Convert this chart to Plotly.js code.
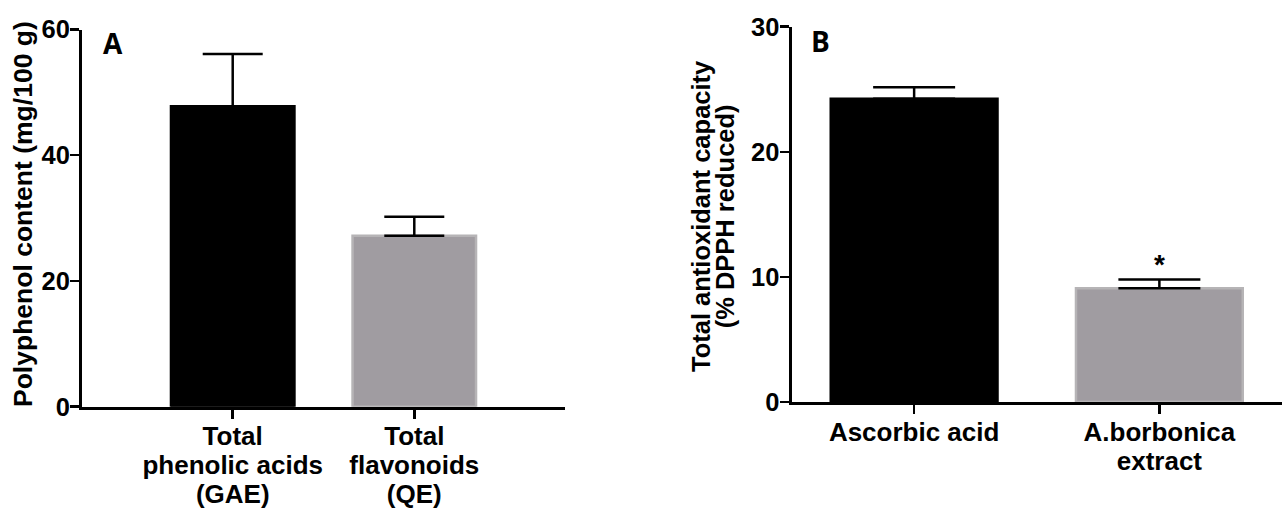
<!DOCTYPE html>
<html>
<head>
<meta charset="utf-8">
<script src="https://cdn.plot.ly/plotly-3.0.1.min.js"></script>
<style>
html,body{margin:0;padding:0;background:#fff;}
#chart{width:1282px;height:511px;}
</style>
</head>
<body>
<div id="chart"></div>
<script>
// Panel A data
const catsA = ["Total<br>phenolic acids<br>(GAE)", "Total<br>flavonoids<br>(QE)"];
const valsA = [47.8, 27.2];
const errA = [8.3, 3.0];
const ticksA = [0, 20, 40, 60];

// Panel B data
const catsB = ["Ascorbic acid", "A.borbonica<br>extract"];
const valsB = [24.25, 9.1];
const errB = [0.9, 0.7];
const ticksB = [0, 10, 20, 30];

const titleA = "Polyphenol content (mg/100 g)";
const titleB = ["Total antioxidant capacity", "(% DPPH reduced)"];

const barColors = ["#000000", "#a09ca1"];
const edgeColors = ["#000000", "#b6b4b6"];

const W = 1282, H = 511;
const px = v => v / W;
const py = v => 1 - v / H;

const FAM = "Liberation Sans, Arial, sans-serif";
// wrap each line in a span with a larger size, base size sets the line pitch
const bigLines = (s, size) => s.split("<br>").map(l => '<span style="font-size:' + size + 'px">' + l + '</span>').join("<br>");

const tickFont = {family: FAM, size: 25.5, color: "#000", weight: 700};
const catFont = {family: FAM, size: 22.3, color: "#000", weight: 700};

const traces = [
  {
    type: "bar", x: catsA, y: valsA, xaxis: "x", yaxis: "y", width: 0.68,
    marker: {color: barColors, line: {color: edgeColors, width: 2.5}},
    error_y: {type: "data", symmetric: false, array: errA, arrayminus: [0, 0], color: "#000", thickness: 2.5, width: 30},
    hoverinfo: "none", showlegend: false
  },
  {
    type: "bar", x: catsB, y: valsB, xaxis: "x2", yaxis: "y2", width: 0.68,
    marker: {color: barColors, line: {color: edgeColors, width: 2.5}},
    error_y: {type: "data", symmetric: false, array: errB, arrayminus: [0, 0], color: "#000", thickness: 2.5, width: 41},
    hoverinfo: "none", showlegend: false
  }
];

const axisCommon = {
  showline: true, linecolor: "#000", linewidth: 3,
  ticks: "outside", ticklen: 9, tickwidth: 2.5, tickcolor: "#000",
  showgrid: false, zeroline: false, fixedrange: true
};

const layout = {
  width: W, height: H,
  margin: {l: 0, r: 0, t: 0, b: 0},
  paper_bgcolor: "#fff", plot_bgcolor: "rgba(0,0,0,0)",
  showlegend: false,
  xaxis: Object.assign({}, axisCommon, {
    domain: [px(82), px(565)], anchor: "y", type: "category",
    range: [-0.83, 1.83], tickfont: catFont,
    tickvals: catsA, ticktext: catsA.map(c => bigLines(c, 26))
  }),
  yaxis: Object.assign({}, axisCommon, {
    domain: [py(406.7), py(29.5)], anchor: "x", range: [0, 60],
    tickvals: ticksA, ticktext: ticksA.map(String), tickfont: tickFont,
    ticklabelstandoff: -5
  }),
  xaxis2: Object.assign({}, axisCommon, {
    domain: [px(791.5), 1], anchor: "y2", type: "category",
    range: [-0.5, 1.5], tickfont: catFont,
    tickvals: catsB, ticktext: catsB.map(c => bigLines(c, 26))
  }),
  yaxis2: Object.assign({}, axisCommon, {
    domain: [py(402), py(26.7)], anchor: "x2", range: [0, 30],
    tickvals: ticksB, ticktext: ticksB.map(String), tickfont: tickFont,
    ticklabelstandoff: -5
  }),
  annotations: [
    {text: titleA, xref: "paper", yref: "paper", x: px(23), y: py(214),
     xanchor: "center", yanchor: "middle", textangle: -90, showarrow: false,
     font: {family: FAM, size: 26.5, color: "#000", weight: 700}},
    {text: bigLines(titleB.join("<br>"), 25.5), xref: "paper", yref: "paper", x: px(713), y: py(216),
     xanchor: "center", yanchor: "middle", textangle: -90, showarrow: false,
     font: {family: FAM, size: 18.8, color: "#000", weight: 700}},
    {text: "A", xref: "paper", yref: "paper", x: px(113), y: py(43), xanchor: "center", yanchor: "middle",
     showarrow: false, font: {family: "Open Sans, sans-serif", size: 28, color: "#000", weight: 700}},
    {text: "B", xref: "paper", yref: "paper", x: px(820), y: py(41), xanchor: "center", yanchor: "middle",
     showarrow: false, font: {family: "Open Sans, sans-serif", size: 28, color: "#000", weight: 700}},
    {text: "*", xref: "x2", yref: "y2", x: catsB[1], y: valsB[1] + errB[1], yanchor: "bottom", yshift: -3,
     showarrow: false, font: {family: FAM, size: 28, color: "#000", weight: 700}}
  ]
};

Plotly.newPlot("chart", traces, layout, {staticPlot: true, displayModeBar: false});
</script>
</body>
</html>
